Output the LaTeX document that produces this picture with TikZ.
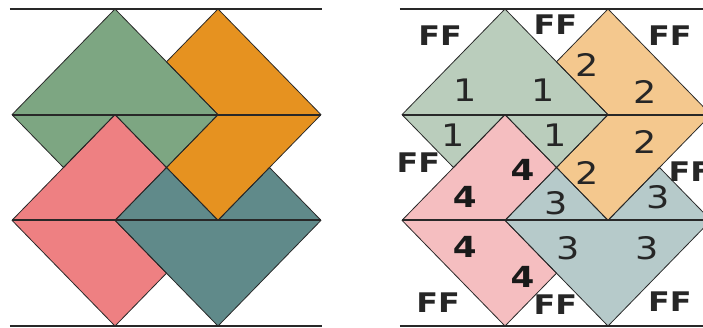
\documentclass[tikz,border=0pt]{standalone}
\usepackage{fontspec}
\setmainfont{DejaVu Sans}
\newfontfamily\labbold{DejaVu Sans Bold}
\definecolor{cgreen}{RGB}{125,166,130}
\definecolor{corange}{RGB}{230,146,32}
\definecolor{cpink}{RGB}{238,128,130}
\definecolor{cteal}{RGB}{96,138,138}
\definecolor{lgreen}{RGB}{186,205,188}
\definecolor{lorange}{RGB}{244,200,142}
\definecolor{lpink}{RGB}{245,190,192}
\definecolor{lteal}{RGB}{182,202,202}
\definecolor{edgecol}{RGB}{40,40,40}
\tikzset{
  piece/.style={draw=edgecol, line width=0.8pt, line join=round},
  rule/.style={draw=edgecol, line width=1.8pt},
  ff/.style={inner sep=0pt, font=\labbold\fontsize{27}{27}\selectfont, text=black!85},
  num/.style={inner sep=0pt, font=\fontsize{31}{31}\selectfont, text=black!85},
  numb/.style={inner sep=0pt, font=\labbold\fontsize{29}{29}\selectfont, text=black!90},
}
\newcommand{\wide}[1]{\scalebox{1.18}[1]{#1}}
\begin{document}
\begin{tikzpicture}[x=1pt,y=1pt]
\clip (0,0) rectangle (703,-328);
\fill[white] (0,0) rectangle (703,-328);
% ---------- left panel ----------
\begin{scope}[shift={(12pt,-9pt)}, x=103pt, y=-105.67pt]
  \fill[fill=cgreen]  (1,0)--(2,1)--(1.5,1.5)--(1,1)--(0.5,1.5)--(0,1)--cycle;
  \fill[fill=corange] (2,0)--(3,1)--(2,2)--(1.5,1.5)--(2,1)--(1.5,0.5)--cycle;
  \fill[fill=cpink]   (1,1)--(1.5,1.5)--(1,2)--(1.5,2.5)--(1,3)--(0,2)--cycle;
  \fill[fill=cteal]   (1.5,1.5)--(2,2)--(2.5,1.5)--(3,2)--(2,3)--(1,2)--cycle;
  \draw[piece] (1,0)--(2,1)--(1.5,1.5)--(1,1)--(0.5,1.5)--(0,1)--cycle;
  \draw[piece] (2,0)--(3,1)--(2,2)--(1.5,1.5)--(2,1)--(1.5,0.5)--cycle;
  \draw[piece] (1,1)--(1.5,1.5)--(1,2)--(1.5,2.5)--(1,3)--(0,2)--cycle;
  \draw[piece] (1.5,1.5)--(2,2)--(2.5,1.5)--(3,2)--(2,3)--(1,2)--cycle;
  \draw[rule] (-0.02,0)--(3.01,0);
  \draw[rule] (0,1)--(3,1);
  \draw[rule] (0,2)--(3,2);
  \draw[rule] (-0.02,3)--(3.01,3);
\end{scope}
% ---------- right panel ----------
\begin{scope}[shift={(402pt,-9pt)}, x=103pt, y=-105.67pt]
  \fill[fill=lgreen]  (1,0)--(2,1)--(1.5,1.5)--(1,1)--(0.5,1.5)--(0,1)--cycle;
  \fill[fill=lorange] (2,0)--(3,1)--(2,2)--(1.5,1.5)--(2,1)--(1.5,0.5)--cycle;
  \fill[fill=lpink]   (1,1)--(1.5,1.5)--(1,2)--(1.5,2.5)--(1,3)--(0,2)--cycle;
  \fill[fill=lteal]   (1.5,1.5)--(2,2)--(2.5,1.5)--(3,2)--(2,3)--(1,2)--cycle;
  \draw[piece] (1,0)--(2,1)--(1.5,1.5)--(1,1)--(0.5,1.5)--(0,1)--cycle;
  \draw[piece] (2,0)--(3,1)--(2,2)--(1.5,1.5)--(2,1)--(1.5,0.5)--cycle;
  \draw[piece] (1,1)--(1.5,1.5)--(1,2)--(1.5,2.5)--(1,3)--(0,2)--cycle;
  \draw[piece] (1.5,1.5)--(2,2)--(2.5,1.5)--(3,2)--(2,3)--(1,2)--cycle;
  \draw[rule] (-0.02,0)--(3.1,0);
  \draw[rule] (0,1)--(3,1);
  \draw[rule] (0,2)--(3,2);
  \draw[rule] (-0.02,3)--(3.1,3);
  % FF labels
  \node[ff] (f1) at (0.37,0.25) {\wide{FF}};
  \node[ff] (f2) at (1.49,0.15) {\wide{FF}};
  \node[ff] (f3) at (2.60,0.25) {\wide{FF}};
  \node[ff] (f4) at (0.16,1.45) {\wide{FF}};
  \node[ff] (f5) at (2.80,1.54) {\wide{FF}};
  \node[ff] (f6) at (0.35,2.78) {\wide{FF}};
  \node[ff] (f7) at (1.49,2.80) {\wide{FF}};
  \node[ff] (f8) at (2.60,2.77) {\wide{FF}};
  % piece 1
  \node[num] (g1) at (0.61,0.77) {\wide{1}};
  \node[num] (g2) at (1.37,0.77) {\wide{1}};
  \node[num] (g3) at (0.50,1.19) {\wide{1}};
  \node[num] (g4) at (1.49,1.19) {\wide{1}};
  % piece 2
  \node[num] (o1) at (1.80,0.53) {\wide{2}};
  \node[num] (o2) at (2.36,0.79) {\wide{2}};
  \node[num] (o3) at (2.36,1.26) {\wide{2}};
  \node[num] (o4) at (1.80,1.55) {\wide{2}};
  % piece 3
  \node[num] (t1) at (1.50,1.84) {\wide{3}};
  \node[num] (t2) at (2.49,1.78) {\wide{3}};
  \node[num] (t3) at (1.61,2.26) {\wide{3}};
  \node[num] (t4) at (2.38,2.26) {\wide{3}};
  % piece 4
  \node[numb] (p1) at (1.17,1.52) {\wide{4}};
  \node[numb] (p2) at (0.61,1.78) {\wide{4}};
  \node[numb] (p3) at (0.61,2.25) {\wide{4}};
  \node[numb] (p4) at (1.17,2.54) {\wide{4}};
\end{scope}
\end{tikzpicture}
\end{document}
